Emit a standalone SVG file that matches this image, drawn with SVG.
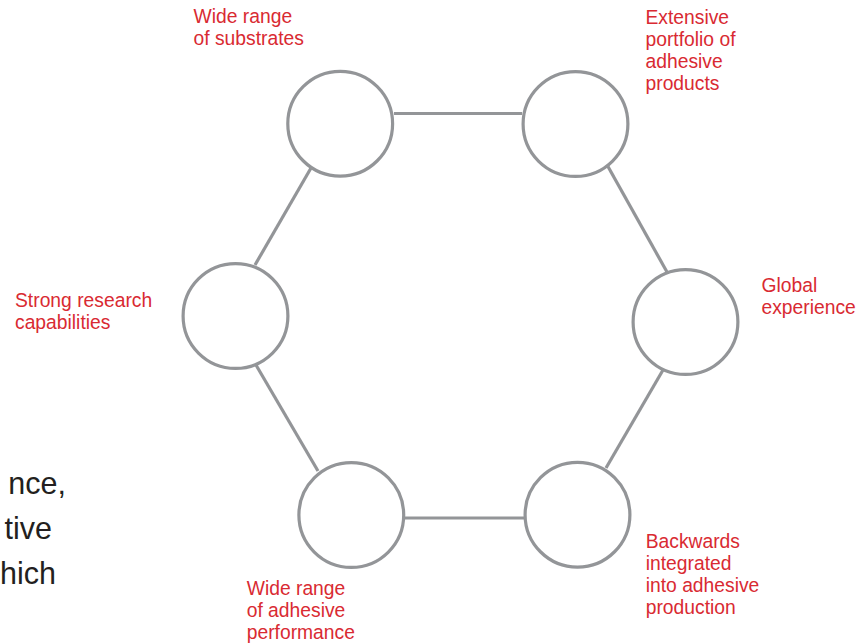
<svg xmlns="http://www.w3.org/2000/svg" width="857" height="644" viewBox="0 0 857 644">
<style>
.node circle{fill:#fff;stroke:#939598;stroke-width:3.2}
.conn line{stroke:#939598;stroke-width:3.2}
.lbl{font-family:"Liberation Sans",Arial,sans-serif;font-size:19.3px;fill:#d92a32}
.body{font-family:"Liberation Sans",Arial,sans-serif;font-size:30.5px;fill:#231f20;text-anchor:end}
</style>
<rect width="857" height="644" fill="#fff"/>
<g id="connectors" class="conn">
<line x1="394" y1="113.5" x2="522" y2="113.5"/>
<line x1="606" y1="163" x2="667" y2="272"/>
<line x1="663" y1="370" x2="606" y2="468"/>
<line x1="405" y1="518" x2="524" y2="518"/>
<line x1="318" y1="471" x2="256" y2="365"/>
<line x1="255" y1="265" x2="311" y2="168"/>
</g>
<g id="node-substrates" class="node">
<circle cx="340.2" cy="123.7" r="52.4"/>
<text class="lbl" x="193.5" y="23">Wide range</text>
<text class="lbl" x="193.5" y="45">of substrates</text>
</g>
<g id="node-portfolio" class="node">
<circle cx="575.5" cy="124" r="52.4"/>
<text class="lbl" x="645.5" y="24">Extensive</text>
<text class="lbl" x="645.5" y="46">portfolio of</text>
<text class="lbl" x="645.5" y="68">adhesive</text>
<text class="lbl" x="645.5" y="90">products</text>
</g>
<g id="node-global" class="node">
<circle cx="685.5" cy="322" r="52.4"/>
<text class="lbl" x="761.5" y="292">Global</text>
<text class="lbl" x="761.5" y="314">experience</text>
</g>
<g id="node-backwards" class="node">
<circle cx="577.5" cy="514.7" r="52.4"/>
<text class="lbl" x="645.7" y="547.5">Backwards</text>
<text class="lbl" x="645.7" y="569.5">integrated</text>
<text class="lbl" x="645.7" y="591.5">into adhesive</text>
<text class="lbl" x="645.7" y="614">production</text>
</g>
<g id="node-performance" class="node">
<circle cx="351.3" cy="515" r="52.4"/>
<text class="lbl" x="246.7" y="595">Wide range</text>
<text class="lbl" x="246.7" y="617">of adhesive</text>
<text class="lbl" x="246.7" y="639">performance</text>
</g>
<g id="node-research" class="node">
<circle cx="235.5" cy="316" r="52.4"/>
<text class="lbl" x="15" y="306.5">Strong research</text>
<text class="lbl" x="15" y="328.5">capabilities</text>
</g>
<g id="body-text">
<text class="body" x="66" y="494">nce,</text>
<text class="body" x="52" y="539">tive</text>
<text class="body" x="56" y="584">hich</text>
</g>
</svg>
